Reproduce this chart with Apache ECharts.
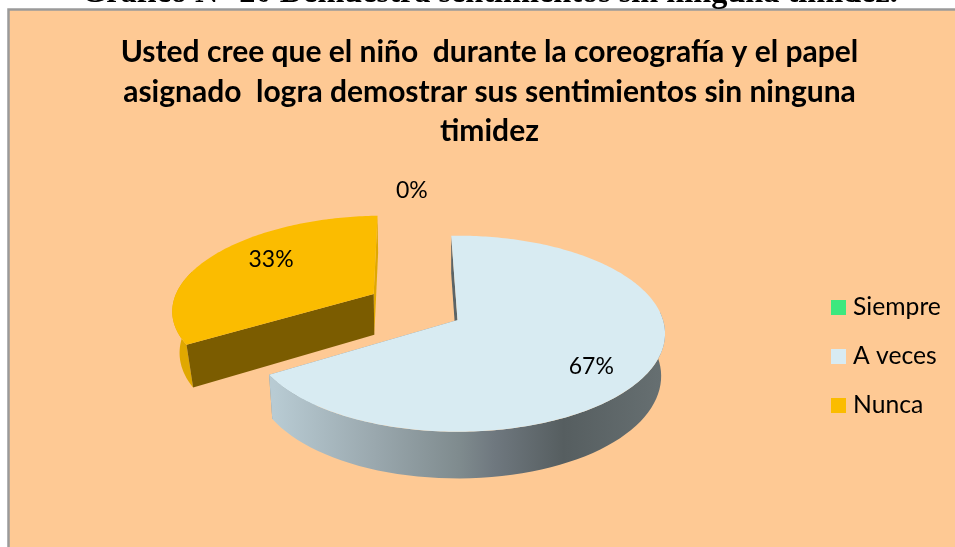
<!DOCTYPE html>
<html><head><meta charset="utf-8">
<style>html,body{margin:0;padding:0;background:#fff}#c{width:955px;height:547px}</style>
<script src="https://cdn.jsdelivr.net/npm/echarts@6/dist/echarts.min.js"></script>
</head><body><div id="c"></div>
<script>
const categories = ['Siempre', 'A veces', 'Nunca'];
const percentValues = [0, 66.7, 33.3];
const sliceColors = ['#3CE87E', '#D8EBF2', '#FBBC00'];
const explodeAmounts = [0, 0, 0.508];
const chartTitle = 'Usted cree que el niño  durante la coreografía y el papel\nasignado  logra demostrar sus sentimientos sin ninguna\ntimidez';
const captionText = 'Gráfico N° 20 Demuestra sentimientos sin ninguna timidez.';

// perspective model of the tilted pie
const view = {cx: 457.5, cy: 320, A: 205.5, B: 96.1, p: 0.1398, startDeg: -2, labelShift: [-7.4, 8.6, 7.8], labelRadius: [1.674, 0.76, 0.705], explodeShift: 5.4};
const rad = d => d * Math.PI / 180;
function topPoint(u, v) {
  const k = 1 - view.p * v;
  return [view.cx + view.A * u / k, view.cy + view.B * v / k];
}
function lowPoint(pt) {
  const dx = pt[0] - view.cx;
  return [pt[0] - 9e-5 * dx * Math.abs(dx), pt[1] + 40.7 + (pt[1] - 296) * 0.044];
}
const total = percentValues.reduce((a, b) => a + b, 0);
function sliceAngles(i) {
  let s = view.startDeg;
  for (let k = 0; k < i; k++) s += percentValues[k] / total * 360;
  return [s, s + percentValues[i] / total * 360];
}
function renderSlice(params, api) {
  const i = params.seriesIndex;
  const value = api.value(0);
  const [a0, a1] = sliceAngles(i);
  const mid = (a0 + a1) / 2;
  const ex = rad(mid + view.explodeShift), d = explodeAmounts[i];
  const ox = d * Math.sin(ex), oy = -d * Math.cos(ex);
  const P = (deg, r) => topPoint(ox + r * Math.sin(rad(deg)), oy - r * Math.cos(rad(deg)));
  const children = [];
  if (value > 0) {
    const arc = [];
    const n = Math.max(8, Math.round(a1 - a0));
    for (let k = 0; k <= n; k++) arc.push(P(a0 + (a1 - a0) * k / n, 1));
    const apex = P(0, 0);
    // only the front of the rim can be seen
    const r0 = Math.max(a0, 85), r1 = Math.min(a1, 285);
    const rimTop = [];
    for (let k = 0; k <= 60; k++) rimTop.push(P(r0 + (r1 - r0) * k / 60, 1));
    const rimLow = rimTop.map(lowPoint).reverse();
    const wallFill = i === 1
      ? {type: 'linear', global: true, x: 274, y: 0, x2: 660, y2: 0, colorStops: [
          {offset: 0, color: '#B8CBD3'}, {offset: 0.26, color: '#9AA8AE'}, {offset: 0.48, color: '#7F8B8E'},
          {offset: 0.57, color: '#6F787F'}, {offset: 0.75, color: '#565E60'}, {offset: 1, color: '#666F71'}]}
      : '#E0A800';
    // far cut face, then rim, then near cut face, then the top
    children.push({type: 'polygon', shape: {points: [apex, arc[n], lowPoint(arc[n]), lowPoint(apex)]},
      style: {fill: i === 1 ? '#7F8B8E' : '#E0A800'}});
    children.push({type: 'polygon', shape: {points: rimTop.concat(rimLow)}, style: {fill: wallFill}});
    children.push({type: 'polygon', shape: {points: [apex, arc[0], lowPoint(arc[0]), lowPoint(apex)]},
      style: {fill: i === 1 ? '#5B6467' : '#7B5C00'}});
    children.push({type: 'polygon', shape: {points: [apex].concat(arc)}, style: {fill: sliceColors[i]}});
  }
  const la = mid + view.labelShift[i], lr = view.labelRadius[i];
  const lp = P(la, lr);
  children.push({type: 'text', z2: 10, style: {x: lp[0], y: lp[1], text: Math.round(value) + '%',
    fill: '#000', font: '23px Lato', align: 'center', verticalAlign: 'middle'}});
  return {type: 'group', children};
}

const chart = echarts.init(document.getElementById('c'), null, {renderer: 'canvas'});
chart.setOption({
  animation: false,
  backgroundColor: '#ffffff',
  graphic: [
    {type: 'rect', z: -10, shape: {x: 8.5, y: 9.5, width: 960, height: 560},
      style: {fill: '#FEC994', stroke: '#9A9A9A', lineWidth: 2.5}},
    {type: 'text', z: -5, style: {x: 489.5, y: -6, text: captionText, fill: '#000',
      font: 'bold 32.3px "Liberation Serif"', align: 'center', verticalAlign: 'middle'}}
  ],
  title: {text: chartTitle, left: 484.5, top: 28, textAlign: 'center',
    textStyle: {fontFamily: 'Lato', fontWeight: 'bold', fontSize: 30, lineHeight: 39.5, color: '#000'}},
  legend: {orient: 'vertical', left: 826, top: 290, itemWidth: 15, itemHeight: 15, itemGap: 24, icon: 'rect',
    data: categories, textStyle: {fontFamily: 'Lato', fontSize: 24.7, lineHeight: 24, color: '#000', padding: [0, 0, 0, 2]}},
  series: categories.map((name, i) => ({
    type: 'custom', name, coordinateSystem: 'none', renderItem: renderSlice, clip: false,
    itemStyle: {color: sliceColors[i]}, data: [[percentValues[i]]]
  }))
});
</script></body></html>
